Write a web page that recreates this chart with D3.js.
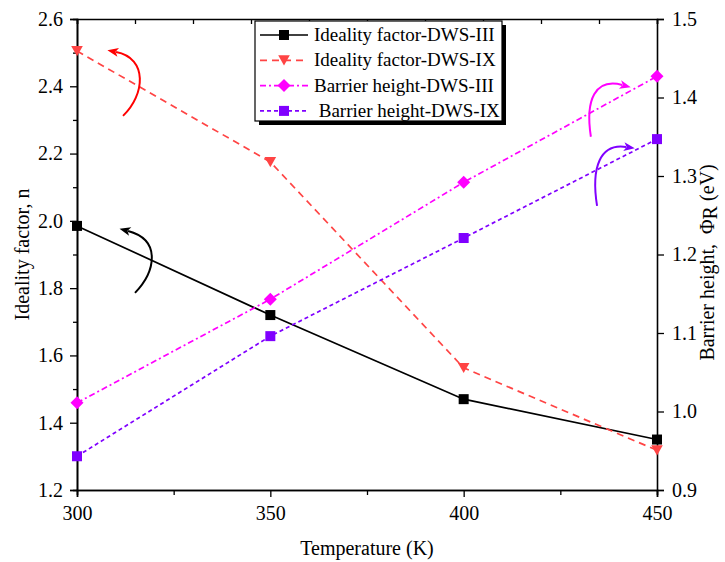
<!DOCTYPE html>
<html lang="en">
<head>
<meta charset="UTF-8">
<title>Ideality factor and barrier height vs temperature</title>
<script src="https://d3js.org/d3.v7.min.js"></script>
<style>
    body { margin: 0; background: #fff; }
    svg { display: block; font-family: "Liberation Serif", "Times New Roman", serif; }
    svg text { font-family: "Liberation Serif", "Times New Roman", serif; white-space: pre; }
</style>
</head>
<body>
<svg width="725" height="562"></svg>
<script>
    // data
    const temps = [300, 350, 400, 450];
    const idealityIII = [1.985, 1.72, 1.47, 1.35];
    const idealityIX = [2.505, 2.175, 1.563, 1.318];
    const barrierIII = [1.011, 1.143, 1.292, 1.427];
    const barrierIX = [0.943, 1.096, 1.221, 1.347];

    const leftTicks = [1.2, 1.4, 1.6, 1.8, 2.0, 2.2, 2.4, 2.6];
    const rightTicks = [0.9, 1.0, 1.1, 1.2, 1.3, 1.4, 1.5];
    const xTicks = [300, 350, 400, 450];

    const series = [
        {name: "Ideality factor-DWS-III", values: idealityIII, axis: "left", color: "#000000", dash: null, marker: "square"},
        {name: "Ideality factor-DWS-IX", values: idealityIX, axis: "left", color: "#ff4444", dash: "7,5", marker: "triangle"},
        {name: "Barrier height-DWS-III", values: barrierIII, axis: "right", color: "#ff00ff", dash: "6,3,2,3", marker: "diamond"},
        {name: " Barrier height-DWS-IX", values: barrierIX, axis: "right", color: "#8000ff", dash: "4,3", marker: "square"}
    ];

    // curved arrows, in data units: start, control1, control2, end
    const arrows = [
        {axis: "left", color: "#000000", pts: [[315.0, 1.786], [320.2, 1.848], [322.0, 1.943], [313.2, 1.970]]},
        {axis: "left", color: "#ff0000", pts: [[311.9, 2.312], [317.6, 2.374], [318.4, 2.484], [310.1, 2.502]]},
        {axis: "right", color: "#ff00ff", pts: [[432.9, 1.350], [431.4, 1.397], [434.0, 1.425], [441.0, 1.416]]},
        {axis: "right", color: "#8000ff", pts: [[434.5, 1.262], [432.9, 1.311], [435.3, 1.342], [442.0, 1.337]]}
    ];

    const margin = {top: 19, right: 68, bottom: 72, left: 77};
    const width = 725 - margin.left - margin.right;
    const height = 562 - margin.top - margin.bottom;

    const svg = d3.select("svg");
    const g = svg.append("g").attr("transform", `translate(${margin.left},${margin.top})`);

    const x = d3.scaleLinear().domain([300, 450]).range([0, width]);
    const yL = d3.scaleLinear().domain([1.2, 2.6]).range([height, 0]);
    const yR = d3.scaleLinear().domain([0.9, 1.5]).range([height, 0]);

    const fmt1 = d3.format(".1f");

    // bottom axis
    g.append("g").attr("transform", `translate(0,${height})`)
        .call(d3.axisBottom(x).tickValues(xTicks).tickSize(7).tickPadding(9).tickFormat(d3.format("d")));
    g.append("g").attr("transform", `translate(0,${height})`)
        .call(d3.axisBottom(x).tickValues(d3.range(325, 450, 50)).tickSize(5).tickFormat(""));
    // top axis, inward ticks
    g.append("g")
        .call(d3.axisTop(x).tickValues(d3.range(300, 451, 15)).tickSize(-5).tickFormat(""));
    // left axis
    g.append("g")
        .call(d3.axisLeft(yL).tickValues(leftTicks).tickSize(7).tickPadding(7).tickFormat(fmt1));
    g.append("g")
        .call(d3.axisLeft(yL).tickValues(d3.range(1.3, 2.6, 0.2)).tickSize(4).tickFormat(""));
    // right axis
    g.append("g").attr("transform", `translate(${width},0)`)
        .call(d3.axisRight(yR).tickValues(rightTicks).tickSize(7).tickPadding(8).tickFormat(fmt1));

    g.selectAll("g").attr("font-family", null).attr("font-size", null);
    g.selectAll(".domain").attr("stroke", "#000").attr("stroke-width", 1.6);
    g.selectAll(".tick line").attr("stroke", "#000").attr("stroke-width", 1.3);
    g.selectAll(".tick text").attr("fill", "#000").style("font-size", "20px");

    // axis titles
    svg.append("text")
        .attr("x", margin.left + width / 2).attr("y", 555)
        .attr("text-anchor", "middle").attr("font-size", 20)
        .text("Temperature (K)");
    svg.append("text")
        .attr("transform", `translate(29,${margin.top + height / 2}) rotate(-90)`)
        .attr("text-anchor", "middle").attr("font-size", 20)
        .text("Ideality factor, n");
    const rt = svg.append("text")
        .attr("transform", `translate(714,${margin.top + height / 2 + 8}) rotate(-90)`)
        .attr("text-anchor", "middle").attr("font-size", 20);
    rt.append("tspan").text("Barrier height,  \u03A6");
    rt.append("tspan").attr("dy", 3).text("R");
    rt.append("tspan").attr("dy", -3).text(" (eV)");

    // markers
    function drawMarker(sel, type, color, size) {
        if (type === "square") {
            sel.append("rect").attr("x", -size / 2).attr("y", -size / 2)
                .attr("width", size).attr("height", size).attr("fill", color);
        } else if (type === "triangle") {
            const s = size * 0.58;
            sel.append("path").attr("d", `M${-s},${-s * 0.85}L${s},${-s * 0.85}L0,${s * 0.9}Z`).attr("fill", color);
        } else if (type === "diamond") {
            const s = size * 0.65;
            sel.append("path").attr("d", `M0,${-s}L${s},0L0,${s}L${-s},0Z`).attr("fill", color);
        }
    }

    series.forEach(s => {
        const y = s.axis === "left" ? yL : yR;
        const line = d3.line().x((d, i) => x(temps[i])).y(d => y(d));
        g.append("path")
            .datum(s.values)
            .attr("d", line)
            .attr("fill", "none")
            .attr("stroke", s.color)
            .attr("stroke-width", 1.7)
            .attr("stroke-dasharray", s.dash);
        s.values.forEach((v, i) => {
            const m = g.append("g").attr("transform", `translate(${x(temps[i])},${y(v)})`);
            drawMarker(m, s.marker, s.color, 10);
        });
    });

    // curved arrows
    const defs = svg.append("defs");
    arrows.forEach((a, k) => {
        defs.append("marker")
            .attr("id", "arrow" + k)
            .attr("viewBox", "0 0 10 10")
            .attr("refX", 2).attr("refY", 5)
            .attr("markerUnits", "userSpaceOnUse")
            .attr("markerWidth", 13).attr("markerHeight", 11)
            .attr("orient", "auto")
            .append("path").attr("d", "M0,1L10,5L0,9L2.5,5Z").attr("fill", a.color);
        const y = a.axis === "left" ? yL : yR;
        const p = a.pts.map(d => [x(d[0]), y(d[1])]);
        g.append("path")
            .attr("d", `M${p[0]}C${p[1]} ${p[2]} ${p[3]}`)
            .attr("fill", "none")
            .attr("stroke", a.color)
            .attr("stroke-width", 2)
            .attr("marker-end", `url(#arrow${k})`);
    });

    // legend
    const lg = svg.append("g").attr("transform", "translate(255,21)");
    const lw = 247, lh = 100;
    lg.append("rect").attr("x", 4).attr("y", 4).attr("width", lw).attr("height", lh).attr("fill", "#000");
    lg.append("rect").attr("width", lw).attr("height", lh).attr("fill", "#fff").attr("stroke", "#000").attr("stroke-width", 1.2);
    series.forEach((s, i) => {
        const row = lg.append("g").attr("transform", `translate(0,${14 + i * 25.3})`);
        row.append("line").attr("x1", 5).attr("x2", 53).attr("y1", 0).attr("y2", 0)
            .attr("stroke", s.color).attr("stroke-width", 1.7).attr("stroke-dasharray", s.dash);
        drawMarker(row.append("g").attr("transform", "translate(29,0)"), s.marker, s.color, 10);
        row.append("text").attr("x", 59).attr("y", 6).attr("font-size", 19).text(s.name);
    });
</script>
</body>
</html>
